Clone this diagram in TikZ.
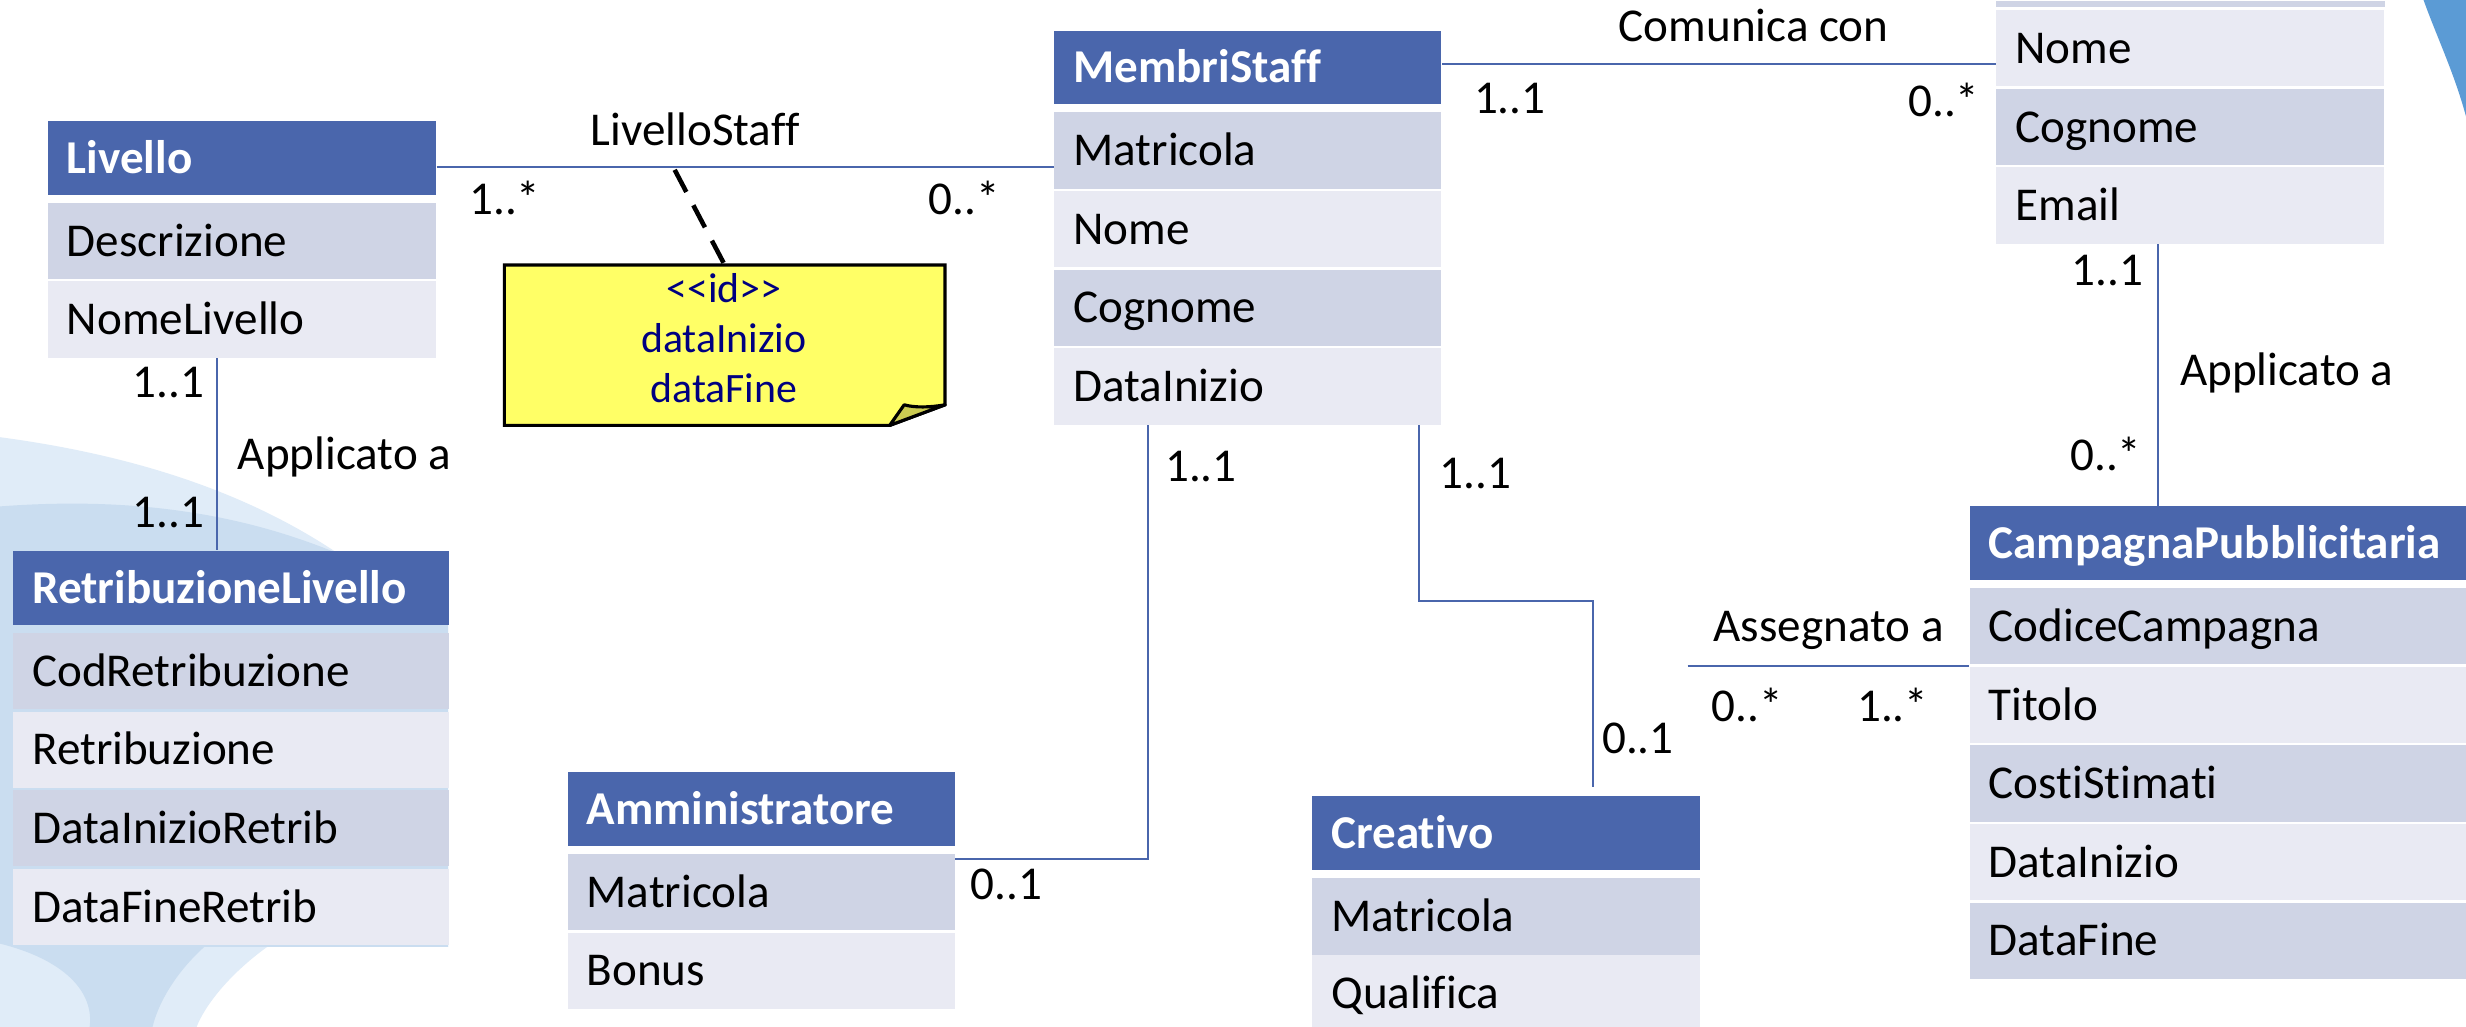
\documentclass[tikz,border=0pt]{standalone}
\usepackage{fontspec}
\setmainfont{Carlito}[Ligatures={TeX,NoCommon}]
\usepackage{tikz}

\definecolor{hdrblu}{RGB}{74,102,172}
\definecolor{rigascura}{RGB}{207,212,229}
\definecolor{rigachiara}{RGB}{233,234,243}
\definecolor{notagialla}{RGB}{255,255,102}
\definecolor{piega}{RGB}{204,204,82}
\definecolor{notatesto}{RGB}{0,0,128}
\definecolor{sfondoA}{RGB}{224,236,248}
\definecolor{sfondoB}{RGB}{202,221,240}
\definecolor{bordoblu}{RGB}{91,155,213}

\begin{document}
\begin{tikzpicture}[x=0.15727mm, y=-0.15727mm,
	font=\fontsize{13.4}{16}\selectfont,
	cella/.style={anchor=north west, inner xsep=1.9mm, inner ysep=0pt, align=left,
		text height=3.6mm, text depth=0.56mm},
	hdr/.style={cella, fill=hdrblu, text=white, minimum height=7.39mm,
		font=\fontsize{13.4}{16}\selectfont\bfseries},
	rA/.style={cella, fill=rigascura, minimum height=7.63mm},
	rB/.style={cella, fill=rigachiara, minimum height=7.63mm},
	lbl/.style={inner sep=0pt, text height=3.6mm, text depth=0.56mm},
	assoc/.style={draw=hdrblu, line width=0.6pt}
	]
		\useasboundingbox (0,0) rectangle (1568,653);
		\fill[white] (0,0) rectangle (1568,653);
		% sfondo
		\fill[sfondoA] (0,278) .. controls (90,290) and (160,315) .. (215,352) -- (285,352) -- (285,602)
			-- (170,602) .. controls (145,620) and (130,640) .. (125,653) -- (0,653) -- cycle;
		\fill[sfondoB] (0,322) .. controls (80,316) and (150,325) .. (215,352) -- (285,352) -- (285,602)
			-- (130,602) .. controls (110,620) and (100,640) .. (97,653) -- (57,653)
			.. controls (60,630) and (40,610) .. (0,600) -- cycle;
		\fill[bordoblu] (1541,0) .. controls (1550,25) and (1560,45) .. (1568,74) -- (1568,0) -- cycle;
		%
		\node[hdr, text width=35.0mm] (lv) at (30,76.5) {Livello};
		\node[rA, text width=35.0mm] (lv1) at (30,128.5) {Descrizione};
		\node[rB, text width=35.0mm] (lv2) at (30,178.5) {NomeLivello};
		%
		\node[hdr, text width=39.76mm] (rl) at (8,350) {RetribuzioneLivello};
		\node[rA, text width=39.76mm] (rl1) at (8,402) {CodRetribuzione};
		\node[rB, text width=39.76mm] (rl2) at (8,452) {Retribuzione};
		\node[rA, text width=39.76mm] (rl3) at (8,502) {DataInizioRetrib};
		\node[rB, text width=39.76mm] (rl4) at (8,552) {DataFineRetrib};
		%
		\node[hdr, text width=34.89mm] (ms) at (670,19) {MembriStaff};
		\node[rA, text width=34.89mm] (ms1) at (670,71) {Matricola};
		\node[rB, text width=34.89mm] (ms2) at (670,121) {Nome};
		\node[rA, text width=34.89mm] (ms3) at (670,171) {Cognome};
		\node[rB, text width=34.89mm] (ms4) at (670,221) {DataInizio};
		%
		\node[fill=rigascura, anchor=north west, inner sep=0pt, minimum width=38.85mm,
			minimum height=0.6mm] (cl0) at (1269,0) {};
		\node[rB, text width=35.0mm] (cl1) at (1269,6) {Nome};
		\node[rA, text width=35.0mm] (cl2) at (1269,56) {Cognome};
		\node[rB, text width=35.0mm] (cl3) at (1269,106) {Email};
		%
		\node[hdr, text width=45.9mm] (cp) at (1252,321.5) {CampagnaPubblicitaria};
		\node[rA, text width=45.9mm] (cp1) at (1252,373.5) {CodiceCampagna};
		\node[rB, text width=45.9mm] (cp2) at (1252,423.5) {Titolo};
		\node[rA, text width=45.9mm] (cp3) at (1252,473.5) {CostiStimati};
		\node[rB, text width=45.9mm] (cp4) at (1252,523.5) {DataInizio};
		\node[rA, text width=45.9mm] (cp5) at (1252,573.5) {DataFine};
		%
		\node[hdr, text width=34.89mm] (am) at (360.5,490.5) {Amministratore};
		\node[rA, text width=34.89mm] (am1) at (360.5,542.5) {Matricola};
		\node[rB, text width=34.89mm] (am2) at (360.5,592.5) {Bonus};
		%
		\node[hdr, text width=34.97mm] (cr) at (834,506) {Creativo};
		\node[rA, text width=34.97mm] (cr1) at (834,558) {Matricola};
		\node[rB, text width=34.97mm] (cr2) at (834,607) {Qualifica};
		%
		\node[anchor=north west, inner sep=0pt, minimum width=43.93mm, minimum height=15.9mm] (nota) at (320.7,168.5) {};
		\filldraw[fill=notagialla, draw=black, line width=0.9pt] (nota.north west) -- (nota.north east)
			-- ([yshift=2.06mm]nota.south east) -- ([xshift=-5.54mm]nota.south east) -- (nota.south west) -- cycle;
		\filldraw[fill=piega, draw=black, line width=0.9pt, line join=round] ([xshift=-5.54mm]nota.south east)
			-- ([xshift=-4.09mm,yshift=2.06mm]nota.south east)
			.. controls ([xshift=-3mm,yshift=1.75mm]nota.south east) and ([xshift=-1.5mm,yshift=1.8mm]nota.south east)
			.. ([yshift=2.06mm]nota.south east) -- cycle;
		\node[align=center, text=notatesto, inner sep=0pt, font=\fontsize{11.9}{14.2}\selectfont] (nt) at (460.3,215)
			{\textless\kern0pt\textless id\textgreater\kern0pt\textgreater\\dataInizio\\dataFine};
		%
		\coordinate (ls) at (429,108);
		\coordinate (ag) at (1073,423.5);
		\draw[line width=1.3pt, dash pattern=on 2.5mm off 1.5mm] (ls) -- (nota.north);
		\draw[assoc] (lv.east |- 0,106) -- (ms1.west |- 0,106);
		\draw[assoc] (ms.east |- 0,40.5) -- (cl1.west |- 0,40.5);
		\draw[assoc] (cl3.south -| 1372,0) -- (cp.north -| 1372,0);
		\draw[assoc] (lv2.south -| 138,0) -- (rl.north -| 138,0);
		\draw[assoc] (ms4.south -| 730,0) |- (am1.east |- 0,546);
		\draw[assoc, shorten >=0.9mm] (ms4.south -| 902,0) |- (1013,382) -- (cr.north -| 1013,0);
		\draw[assoc] (ag) -- (cp1.west |- ag);
		%
		\node[lbl] (t1) at (442,83) {LivelloStaff};
		\node[lbl] (m1) at (321,127) {1..*};
		\node[lbl] (m2) at (613,127) {0..*};
		\node[lbl] (t2) at (1115,17) {Comunica con};
		\node[lbl] (m3) at (960,62.5) {1..1};
		\node[lbl] (m4) at (1236,64.7) {0..*};
		\node[lbl] (m5) at (1340,171.7) {1..1};
		\node[lbl] (t3) at (1454,235.3) {Applicato a};
		\node[lbl] (m6) at (1339,289.3) {0..*};
		\node[lbl] (m7) at (107,243) {1..1};
		\node[lbl] (t4) at (219,288.7) {Applicato a};
		\node[lbl] (m8) at (107,326) {1..1};
		\node[lbl] (m9) at (763.6,296.7) {1..1};
		\node[lbl] (m10) at (640,562.5) {0..1};
		\node[lbl] (m11) at (938.3,300.9) {1..1};
		\node[lbl] (m12) at (1041.5,469.4) {0..1};
		\node[lbl] (t5) at (1162.7,398.4) {Assegnato a};
		\node[lbl] (m13) at (1111,449.4) {0..*};
		\node[lbl] (m14) at (1203.5,449.4) {1..*};
	\end{tikzpicture}
\end{document}
